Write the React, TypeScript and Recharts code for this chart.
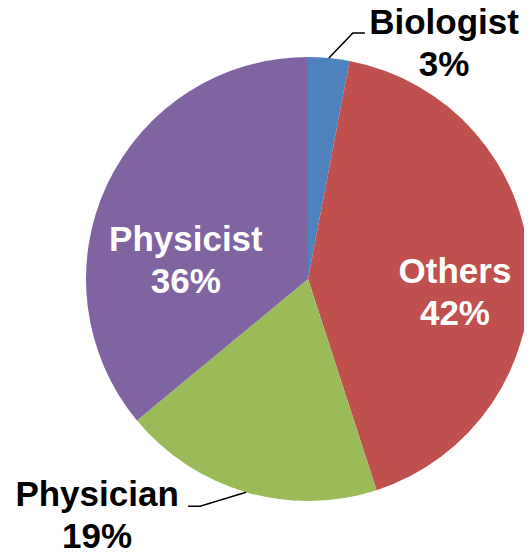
import { PieChart, Pie, Cell } from "recharts";

const categories = ["Biologist", "Others", "Physician", "Physicist"];
const shares = [3, 42, 19, 36];
const colors = ["#4F81BD", "#C0504D", "#9BBB59", "#8064A2"];

const data = categories.map((name, i) => ({ name, value: shares[i] }));

// label block centre, relative to pie centre, in units of the radius
const labelSpots: Record<string, { x: number; y: number; inside: boolean }> = {
  Biologist: { x: 0.613, y: -1.068, inside: false },
  Others: { x: 0.662, y: 0.052, inside: true },
  Physician: { x: -0.95, y: 1.06, inside: false },
  Physicist: { x: -0.55, y: -0.09, inside: true },
};

const RADIAN = Math.PI / 180;

const renderLabel = (props: any) => {
  const { cx, cy, outerRadius, midAngle, name, value } = props;
  const spot = labelSpots[name];
  const x = cx + spot.x * outerRadius;
  const y = cy + spot.y * outerRadius;
  const fill = spot.inside ? "#ffffff" : "#000000";
  let line = null;
  if (!spot.inside) {
    const ex = cx + outerRadius * Math.cos(-midAngle * RADIAN);
    const ey = cy + outerRadius * Math.sin(-midAngle * RADIAN);
    const right = ex > cx;
    const bx = right ? ex + 24 : ex - 46;
    const by = right ? ey - 25 : ey + 14;
    const tx = right ? bx + 12 : bx - 12;
    line = (
      <polyline
        points={`${ex},${ey} ${bx},${by} ${tx},${by}`}
        fill="none"
        stroke="#000"
        strokeWidth={1.5}
      />
    );
  }
  return (
    <g>
      {line}
      <text
        x={x}
        y={y - 8}
        textAnchor="middle"
        fill={fill}
        fontFamily="'Liberation Sans', Arial, sans-serif"
        fontWeight="bold"
        fontSize={35}
      >
        <tspan x={x} dy={0}>{name}</tspan>
        <tspan x={x} dy={42}>{`${value}%`}</tspan>
      </text>
    </g>
  );
};

const App = () => {
  return (
    <PieChart
      width={524}
      height={546}
      margin={{ top: 0, right: 0, bottom: 0, left: 0 }}
      style={{ overflow: "visible" }}
    >
      <Pie
        data={data}
        dataKey="value"
        nameKey="name"
        cx={300}
        cy={271}
        outerRadius={222}
        startAngle={90}
        endAngle={-270}
        stroke="none"
        label={renderLabel}
        labelLine={false}
        isAnimationActive={false}
      >
        {data.map((entry, index) => (
          <Cell key={`cell-${index}`} fill={colors[index]} />
        ))}
      </Pie>
    </PieChart>
  );
};

export default App;
